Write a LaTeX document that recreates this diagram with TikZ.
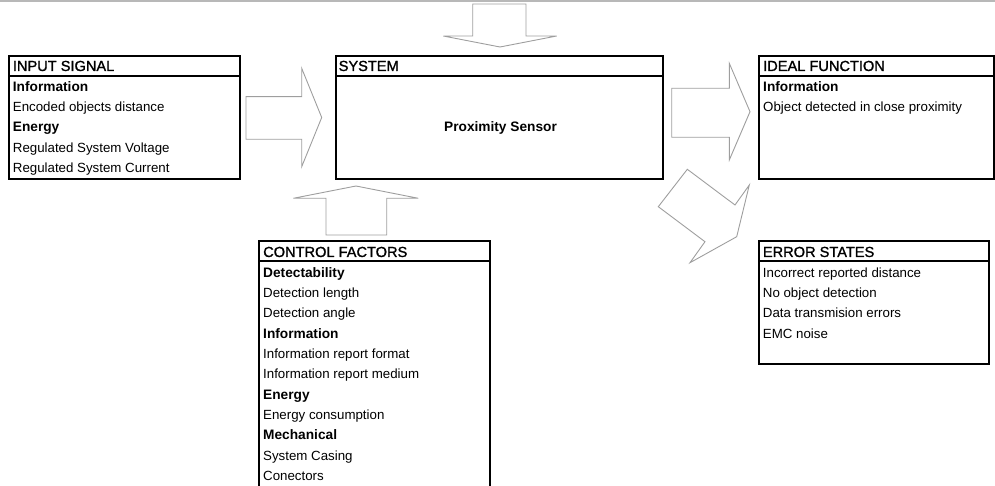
\documentclass[tikz,border=0pt]{standalone}
\usepackage{fontspec}
\setmainfont{Liberation Sans}
\newfontfamily\hdrfam[FakeBold=1.3]{Liberation Sans}
\newcommand\hdrf{\hdrfam\fontsize{14.6}{16}\selectfont}
\newcommand\bodyf{\fontsize{13.3}{15}\selectfont}
\newcommand\bldf{\fontsize{13.7}{15}\selectfont\bfseries}
\tikzset{
  box/.style={draw=black, line width=1.6pt, inner sep=0pt, anchor=north west},
  divline/.style={draw=black, line width=1.6pt},
  blockarrow/.style={draw=black!38, line width=0.9pt, line join=miter},
  hdr/.style={anchor=base west, inner sep=0pt, font=\hdrf},
  txt/.style={anchor=base west, inner sep=0pt, font=\bodyf},
  bld/.style={anchor=base west, inner sep=0pt, font=\bldf},
}
\begin{document}
\begin{tikzpicture}[x=1pt, y=-1pt]
\useasboundingbox (0,0) rectangle (995,486);
% top gray rule
\draw[draw=black!28, line width=1.6pt] (0,1) -- (995,1);

% ---------- boxes ----------
\node[box, minimum width=231pt, minimum height=123pt] (inbox) at (8,55) {};
\draw[divline] (8,76) -- (239,76);
\node[box, minimum width=327pt, minimum height=123pt] (sysbox) at (335,55) {};
\draw[divline] (335,76) -- (662,76);
\node[box, minimum width=235pt, minimum height=123pt] (idbox) at (758,55) {};
\draw[divline] (758,76) -- (993,76);
\node[box, minimum width=231pt, minimum height=270pt] (cfbox) at (258,240) {};
\draw[divline] (258,261) -- (489,261);
\node[box, minimum width=230pt, minimum height=123pt] (erbox) at (758,240) {};
\draw[divline] (758,261) -- (988,261);

% ---------- texts ----------
\node[hdr] (inh) at (12.7,71) {INPUT SIGNAL};
\node[bld] (in1) at (12.7,91.3) {Information};
\node[txt] (in2) at (12.7,111.6) {Encoded objects distance};
\node[bld] (in3) at (12.7,131.9) {Energy};
\node[txt] (in4) at (12.7,152.2) {Regulated System Voltage};
\node[txt] (in5) at (12.7,172.5) {Regulated System Current};

\node[hdr] (sysh) at (338.5,71) {SYSTEM};
\node[anchor=base, inner sep=0pt, font=\bldf] (sys1) at (500.5,131.7) {Proximity Sensor};

\node[hdr] (idh) at (763,71) {IDEAL FUNCTION};
\node[bld] (id1) at (763,91.3) {Information};
\node[txt] (id2) at (763,111.6) {Object detected in close proximity};

\node[hdr] (cfh) at (263,257) {CONTROL FACTORS};
\node[bld] (cf1) at (263,277.3) {Detectability};
\node[txt] (cf2) at (263,297.6) {Detection length};
\node[txt] (cf3) at (263,317.9) {Detection angle};
\node[bld] (cf4) at (263,338.2) {Information};
\node[txt] (cf5) at (263,358.5) {Information report format};
\node[txt] (cf6) at (263,378.8) {Information report medium};
\node[bld] (cf7) at (263,399.1) {Energy};
\node[txt] (cf8) at (263,419.4) {Energy consumption};
\node[bld] (cf9) at (263,439.7) {Mechanical};
\node[txt] (cf10) at (263,460) {System Casing};
\node[txt] (cf11) at (263,480.3) {Conectors};

\node[hdr] (erh) at (762.7,257) {ERROR STATES};
\node[txt] (er1) at (762.7,277.3) {Incorrect reported distance};
\node[txt] (er2) at (762.7,297.6) {No object detection};
\node[txt] (er3) at (762.7,317.9) {Data transmision errors};
\node[txt] (er4) at (762.7,338.2) {EMC noise};

% ---------- block arrows ----------
% input -> system
\draw[blockarrow] (246,96.7) -- (301.7,96.7) -- (301.7,68.3) -- (321.7,117.5)
  -- (301.7,166.7) -- (301.7,139.3) -- (246,139.3) -- cycle;
% system -> ideal function
\draw[blockarrow] (671.7,88.3) -- (729.3,88.3) -- (729.3,63.3) -- (750,111.7)
  -- (729.3,160) -- (729.3,137.3) -- (671.7,137.3) -- cycle;
% noise from top -> system
\draw[blockarrow] (472.7,4) -- (526,4) -- (526,36) -- (556.7,36) -- (500,47)
  -- (443.3,36) -- (472.7,36) -- cycle;
% control factors -> system
\draw[blockarrow] (326,235) -- (326,198.3) -- (293.3,198.3) -- (356,186)
  -- (418.3,198.3) -- (386.7,198.3) -- (386.7,235) -- cycle;
% system -> error states (diagonal)
\draw[blockarrow] (687.3,169.3) -- (735,205) -- (749.3,185) -- (736.7,236.7)
  -- (690,262.7) -- (705,241.7) -- (658.3,206.7) -- cycle;
\end{tikzpicture}
\end{document}
